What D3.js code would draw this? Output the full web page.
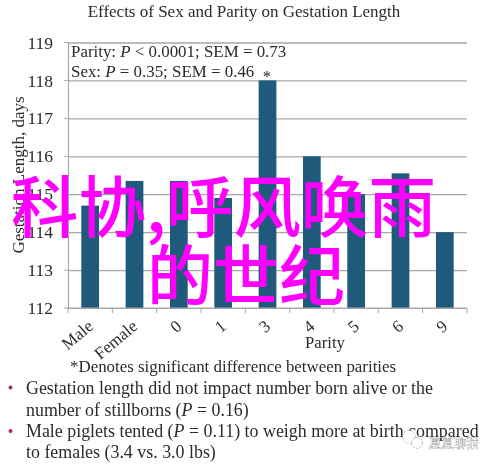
<!DOCTYPE html>
<html>
<head>
<meta charset="utf-8">
<script src="https://cdn.jsdelivr.net/npm/d3@7"></script>
<style>
  html, body { margin: 0; padding: 0; background: #fff; }
  svg { display: block; filter: blur(0.35px); }
  text { font-family: "Liberation Serif", serif; fill: #2b2b2b; }
  .overlay { font-family: "Noto Sans CJK SC", sans-serif; fill: #ff00ff; font-weight: 500; }
</style>
</head>
<body>
<div id="chart"></div>
<script>
const categories = ['Male', 'Female', '0', '1', '3', '4', '5', '6', '9'];
const gestation = [114.7, 115.35, 115.35, 114.9, 118, 116, 115, 115.55, 114];
const yTicks = [112, 113, 114, 115, 116, 117, 118, 119];

const width = 492, height = 464;
const margin = { top: 42.5, right: 25, bottom: 156, left: 68 };

const svg = d3.select('#chart').append('svg')
    .attr('width', width)
    .attr('height', height);

const xScale = d3.scaleBand()
    .domain(categories)
    .range([margin.left, width - margin.right])
    .paddingInner(0.6)
    .paddingOuter(0.3);

const xOuter = d3.scaleBand()
    .domain(categories)
    .range([margin.left, width - margin.right]);

const yScale = d3.scaleLinear()
    .domain([112, 119])
    .range([height - margin.bottom, margin.top]);

// gridlines and y labels
const yAxis = d3.axisLeft(yScale)
    .tickValues(yTicks)
    .tickSize(-(width - margin.left - margin.right))
    .tickPadding(15)
    .tickFormat(d3.format('d'));

svg.append('g')
    .attr('transform', `translate(${margin.left},0)`)
    .call(yAxis)
    .call(g => g.select('.domain').attr('stroke', '#a8a8a8').attr('stroke-width', 1.2))
    .call(g => g.selectAll('.tick line').attr('stroke', '#a8a8a8').attr('stroke-width', 1.2))
    .call(g => g.selectAll('.tick text')
        .style('font-size', '17.5px')
        .style('font-family', '"Liberation Serif", serif')
        .attr('fill', '#2b2b2b'));

// small ticks left of the y axis
svg.append('g').selectAll('line')
    .data(yTicks)
    .join('line')
    .attr('x1', margin.left - 4)
    .attr('x2', margin.left)
    .attr('y1', d => yScale(d))
    .attr('y2', d => yScale(d))
    .attr('stroke', '#a8a8a8');

// bars
svg.append('g').selectAll('rect')
    .data(gestation)
    .join('rect')
    .attr('x', (d, i) => xScale(categories[i]))
    .attr('y', d => yScale(d))
    .attr('width', xScale.bandwidth())
    .attr('height', d => yScale(112) - yScale(d))
    .attr('fill', '#1f5a7d');

// x axis with ticks between the categories
const xBase = yScale(112);
svg.append('line')
    .attr('x1', margin.left).attr('x2', width - margin.right)
    .attr('y1', xBase).attr('y2', xBase)
    .attr('stroke', '#a8a8a8').attr('stroke-width', 1.2);

svg.append('g').selectAll('line')
    .data(categories.concat(['end']))
    .join('line')
    .attr('x1', (d, i) => margin.left + i * xOuter.step())
    .attr('x2', (d, i) => margin.left + i * xOuter.step())
    .attr('y1', xBase)
    .attr('y2', xBase + 5)
    .attr('stroke', '#a8a8a8');

svg.append('g').selectAll('text')
    .data(categories)
    .join('text')
    .attr('transform', d => {
        const cx = xOuter(d) + xOuter.bandwidth() / 2;
        return `translate(${cx + 4},${xBase + 20}) rotate(-40)`;
    })
    .attr('text-anchor', 'end')
    .style('font-size', '17px')
    .text(d => d);

// titles
svg.append('text')
    .attr('x', 244).attr('y', 17)
    .attr('text-anchor', 'middle')
    .style('font-size', '17px')
    .text('Effects of Sex and Parity on Gestation Length');

svg.append('text')
    .attr('transform', `translate(24,175) rotate(-90)`)
    .attr('text-anchor', 'middle')
    .style('font-size', '17px')
    .text('Gestation Length, days');

svg.append('text')
    .attr('x', 325).attr('y', 348)
    .attr('text-anchor', 'middle')
    .style('font-size', '16.7px')
    .text('Parity');

// rich lines, P set in italics
function rich(x, y, size, parts) {
    const t = svg.append('text').attr('x', x).attr('y', y)
        .style('font-size', size + 'px');
    parts.forEach(p => {
        t.append('tspan')
            .style('font-style', p[1] ? 'italic' : 'normal')
            .text(p[0]);
    });
}

rich(71, 57, 16.9, [['Parity: '], ['P', 1], [' < 0.0001; SEM = 0.73']]);
rich(71, 77, 16.9, [['Sex: '], ['P', 1], [' = 0.35; SEM = 0.46']]);

svg.append('text')
    .attr('x', 267).attr('y', 82)
    .attr('text-anchor', 'middle')
    .style('font-size', '17px')
    .text('*');

rich(70, 372, 16.9, [['*Denotes significant difference between parities']]);
rich(26, 394, 17.9, [['Gestation length did not impact number born alive or the']]);
rich(26, 416, 17.9, [['number of stillborns ('], ['P', 1], [' = 0.16)']]);
rich(26, 437, 17.9, [['Male piglets tented ('], ['P', 1], [' = 0.11) to weigh more at birth compared']]);
rich(26, 458, 17.9, [['to females (3.4 vs. 3.0 lbs)']]);

// bullets
svg.append('g').selectAll('circle')
    .data(['first', 'second'])
    .join('circle')
    .attr('cx', 10.5)
    .attr('cy', (d, i) => i === 0 ? 387.5 : 431)
    .attr('r', 2)
    .attr('fill', '#a33050');

// overlaid caption
svg.append('text').attr('class', 'overlay')
    .attr('x', 11).attr('y', 232)
    .style('font-size', '67.5px')
    .text('科协,呼风唤雨');

svg.append('text').attr('class', 'overlay')
    .attr('x', 147).attr('y', 300)
    .style('font-size', '66px')
    .text('的世纪');

// watermark icon
svg.append('g').selectAll('circle')
    .data(['big', 'small'])
    .join('circle')
    .attr('cx', (d, i) => i === 0 ? 409 : 417)
    .attr('cy', (d, i) => i === 0 ? 437 : 443)
    .attr('r', (d, i) => i === 0 ? 6.5 : 5.5)
    .attr('fill', '#fff')
    .attr('stroke', '#9a9a9a')
    .attr('stroke-width', 0.7)
    .attr('stroke-dasharray', '2 1.5');

// watermark
svg.append('text')
    .attr('x', 429).attr('y', 448)
    .style('font-family', '"Noto Sans CJK SC", sans-serif')
    .style('font-size', '12.5px')
    .style('fill', '#fff')
    .style('stroke', '#777')
    .style('stroke-width', 0.6)
    .style('paint-order', 'stroke')
    .text('夏夏聊猜');
</script>
</body>
</html>
